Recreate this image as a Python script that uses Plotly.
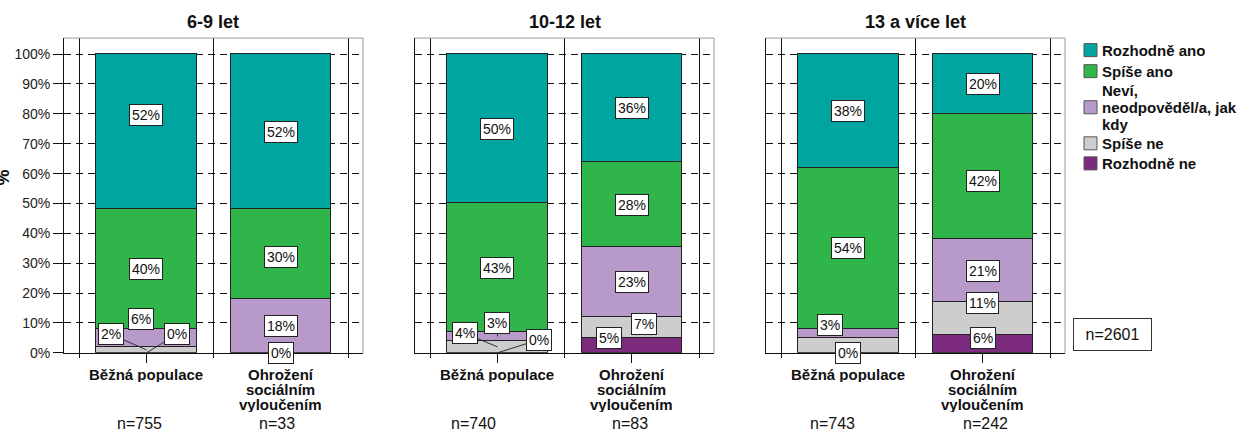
import plotly.graph_objects as go

# --- data -----------------------------------------------------------------
age_groups = ["6-9 let", "10-12 let", "13 a více let"]
groups = ["Běžná populace", "Ohrožení sociálním vyloučením"]
group_lines = [["Běžná populace"], ["Ohrožení", "sociálním", "vyloučením"]]

series_names = ["Rozhodně ano", "Spíše ano", "Neví, neodpověděl/a, jak kdy",
                "Spíše ne", "Rozhodně ne"]
legend_lines = [["Rozhodně ano"], ["Spíše ano"], ["Neví,", "neodpověděl/a, jak", "kdy"],
                ["Spíše ne"], ["Rozhodně ne"]]

# values per bar, ordered: (6-9 běžná, 6-9 ohrožení, 10-12 běžná, 10-12 ohrožení, 13+ běžná, 13+ ohrožení)
rozhodne_ano = [52, 52, 50, 36.2, 38, 20]
spise_ano = [40, 30, 43, 28.4, 54, 42]
nevi = [6, 18, 3, 23.4, 3, 21]
spise_ne = [2, 0, 4, 7.2, 5, 11]
rozhodne_ne = [0, 0, 0, 4.8, 0, 6]

n_counts = [755, 33, 740, 83, 743, 242]
total_n = 2601

series_values = [rozhodne_ano, spise_ano, nevi, spise_ne, rozhodne_ne]
colors = ["#00A59F", "#30B54A", "#B89ACA", "#CDCDCD", "#7C2A7E"]

# --- layout helpers -------------------------------------------------------
W, H = 1242, 430          # design grid
FIG_H = 439               # rendered figure height
FONT = "Liberation Sans, Arial, sans-serif"
panel_px = [(64, 363), (415, 714), (766, 1065)]
top_px, bottom_px = 38, 352
x_range = [-0.613, 1.61]
y_range = [0, 105.37]

def px_x(x):
    return x / W

def px_y(y):
    return 1 - y / H

# label nudges (category units, percentage points) for crowded segments
label_nudge = {
    (0, 0, 0): (0, 5.5),
    (0, 0, 2): (-0.04, 6.4),
    (0, 0, 3): (-0.264, 5.2),
    (0, 0, 4): (0.227, 6.2),
    (0, 1, 1): (0, -1),
    (1, 0, 2): (0, 4.6),
    (1, 0, 3): (-0.24, 4.5),
    (1, 0, 4): (0.31, 4.4),
    (1, 1, 3): (0.093, 1.3),
    (1, 1, 4): (-0.17, 2.6),
    (2, 0, 2): (-0.134, 2.9),
    (2, 1, 1): (0, -1.5),
    (2, 1, 3): (0, 5.3),
    (2, 1, 4): (0, 2),
}
leader_lines = {(0, 0, 3), (0, 0, 4), (1, 0, 2), (1, 0, 3), (1, 0, 4)}
suppressed = {(2, 0, 3)}
n_label_shift = [-7, -4, -24, -2, -16, 3]

fig = go.Figure()
annotations = []
shapes = []

for p, age in enumerate(age_groups):
    sfx = "" if p == 0 else str(p + 1)
    xa, ya = "x" + sfx, "y" + sfx

    # stacked bars, bottom segment first
    for s in reversed(range(len(series_names))):
        vals = series_values[s][2 * p:2 * p + 2]
        fig.add_trace(go.Bar(
            x=[0, 1], y=vals, width=0.75, name=series_names[s],
            marker=dict(color=colors[s], line=dict(color="#222222", width=1)),
            xaxis=xa, yaxis=ya, showlegend=False, hoverinfo="skip",
        ))

    # value labels
    for g in range(2):
        base = 0.0
        for s in reversed(range(len(series_names))):
            v = series_values[s][2 * p + g]
            mid = base + v / 2
            base += v
            key = (p, g, s)
            if key in suppressed:
                continue
            dx, dy = label_nudge.get(key, (0, 0))
            common = dict(
                text=f"{v:.0f}%", font=dict(family=FONT, size=14, color="#111111"),
                bgcolor="white", bordercolor="#222222", borderwidth=1, borderpad=2,
                xref=xa, yref=ya,
            )
            if key in leader_lines:
                annotations.append(dict(
                    x=g, y=mid, ax=g + dx, ay=mid + dy, axref=xa, ayref=ya,
                    showarrow=True, arrowhead=0, arrowwidth=1, arrowcolor="#333333",
                    standoff=0, **common))
            else:
                annotations.append(dict(x=g + dx, y=mid + dy, showarrow=False, **common))

        # category name, one annotation per line
        for i, line in enumerate(group_lines[g]):
            annotations.append(dict(
                x=g, xref=xa, y=px_y(374 + 15 * i), yref="paper", text=f"<b>{line}</b>",
                showarrow=False, font=dict(family=FONT, size=15, color="#111111"),
                height=15, valign="middle", xanchor="center", yanchor="middle"))
        annotations.append(dict(
            x=g, xref=xa, y=px_y(423), yref="paper", text=f"n={n_counts[2 * p + g]}",
            xshift=n_label_shift[2 * p + g], showarrow=False,
            font=dict(family=FONT, size=16, color="#111111"),
            xanchor="center", yanchor="middle"))

    # panel title
    x0, x1 = panel_px[p]
    annotations.append(dict(
        x=px_x((x0 + x1) / 2), y=px_y(22), xref="paper", yref="paper",
        text=f"<b>{age}</b>", showarrow=False,
        font=dict(family=FONT, size=18, color="#111111"), xanchor="center", yanchor="middle"))

    # top and right frame edges
    shapes.append(dict(type="line", xref=xa + " domain", yref=ya + " domain",
                       x0=0, x1=1, y0=1, y1=1, line=dict(color="#999999", width=1)))
    shapes.append(dict(type="line", xref=xa + " domain", yref=ya + " domain",
                       x0=1, x1=1, y0=0, y1=1, line=dict(color="#999999", width=1)))

    fig.update_layout({
        "xaxis" + sfx: dict(
            domain=[px_x(x0), px_x(x1)], range=x_range, anchor=ya,
            tickmode="array", tickvals=[0, 1], showticklabels=False,
            ticks="outside", ticklen=9, tickcolor="#111111", tickwidth=1,
            showgrid=False, zeroline=False, showline=True, linecolor="#111111", linewidth=1,
            minor=dict(tick0=0.5, dtick=1, ticks="outside", ticklen=4, tickcolor="#111111",
                       showgrid=True, gridcolor="#111111", gridwidth=1),
            fixedrange=True,
        ),
        "yaxis" + sfx: dict(
            domain=[px_y(bottom_px), px_y(top_px)], range=y_range, anchor=xa,
            tick0=0, dtick=10, ticksuffix="%", showticklabels=(p == 0),
            ticks="outside" if p == 0 else "", ticklen=10, tickcolor="#111111",
            tickfont=dict(family=FONT, size=14, color="#222222"),
            showgrid=True, gridcolor="#111111", gridwidth=1, griddash="7px,5px",
            zeroline=False, showline=True, linecolor="#111111", linewidth=1,
            fixedrange=True,
        ),
    })

# y axis title
annotations.append(dict(
    x=px_x(3), y=px_y(177), xref="paper", yref="paper", text="<b>%</b>",
    textangle=-90, showarrow=False, font=dict(family=FONT, size=18, color="#111111"),
    xanchor="center", yanchor="middle"))

# legend drawn from the series list
legend_rows_y = [50, 71, 107, 143, 163]
for s, name in enumerate(series_names):
    cy = legend_rows_y[s]
    shapes.append(dict(type="rect", xref="paper", yref="paper",
                       x0=px_x(1084), x1=px_x(1097), y0=px_y(cy + 6.5), y1=px_y(cy - 6.5),
                       fillcolor=colors[s], line=dict(color="#555555", width=1)))
    lines = legend_lines[s]
    for i, line in enumerate(lines):
        ly = cy + (i - (len(lines) - 1) / 2) * 17
        annotations.append(dict(
            x=px_x(1100), y=px_y(ly), xref="paper", yref="paper", text=f"<b>{line}</b>",
            showarrow=False, xanchor="left", yanchor="middle", height=17, valign="middle",
            font=dict(family=FONT, size=15, color="#111111")))

# total count box
annotations.append(dict(
    x=px_x(1112.5), y=px_y(333.5), xref="paper", yref="paper", text=f"n={total_n}",
    showarrow=False, xanchor="center", yanchor="middle", width=77, height=31,
    bordercolor="#333333", borderwidth=1, borderpad=0, bgcolor="white",
    font=dict(family=FONT, size=16, color="#111111")))

fig.update_layout(
    width=W, height=FIG_H, margin=dict(l=0, r=0, t=0, b=0),
    paper_bgcolor="white", plot_bgcolor="white",
    barmode="stack", bargap=0, showlegend=False,
    annotations=annotations, shapes=shapes,
)

page_style = (
    "document.documentElement.style.margin='0';"
    "document.body.style.margin='0';"
)
fig.write_html("out.html", config={"displayModeBar": False}, post_script=page_style)
